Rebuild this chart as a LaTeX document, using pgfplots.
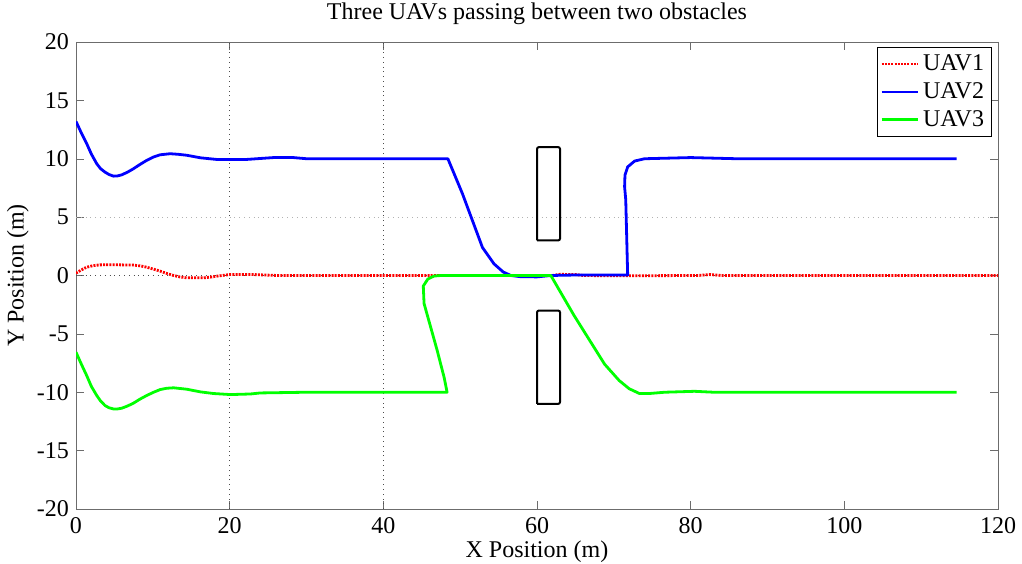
\documentclass[border=0pt]{standalone}
\usepackage{fontspec}
\setmainfont{Liberation Serif}
\usepackage{pgfplots}
\pgfplotsset{compat=1.18}
\begin{document}
\begin{tikzpicture}
\begin{axis}[
    scale only axis,
    width=461pt, height=233.5pt,
    xmin=0, xmax=120, ymin=-20, ymax=20,
    xtick={0,20,...,120},
    ytick={-20,-15,...,20},
    tick align=inside,
    major tick length=4pt,
    axis line style={gray!85!black},
    tick style={gray!85!black},
    /pgf/number format/assume math mode=true,
    every tick label/.append style={font=\fontsize{12}{14}\selectfont},
    xticklabel style={yshift=-0.5pt},
    title={Three UAVs passing between two obstacles},
    title style={font=\fontsize{12}{14}\selectfont, at={(rel axis cs:0.5,1)}, anchor=south, yshift=-1pt},
    xlabel={X Position (m)},
    xlabel style={font=\fontsize{12}{14}\selectfont, at={(rel axis cs:0.5,0)}, anchor=north, yshift=-12.5pt},
    ylabel={Y Position (m)},
    ylabel style={font=\fontsize{12}{14}\selectfont, at={(rel axis cs:-0.063,0.5)}, anchor=center},
    legend style={at={(rel axis cs:0.993,0.989)}, anchor=north east, draw=black, line width=0.5pt,
        font=\fontsize{12}{14}\selectfont, inner sep=1.5pt, row sep=0.5pt, cells={anchor=west}},
    legend image code/.code={\draw[#1] (0pt,0pt) -- (18pt,0pt);},
]
% the few grid lines that show in the original
\draw[black!70, dotted] (axis cs:20,-20) -- (axis cs:20,20);
\draw[black!70, dotted] (axis cs:40,-20) -- (axis cs:40,20);
\draw[black!30, dotted] (axis cs:0,5) -- (axis cs:120,5);
\draw[black!70, dotted] (axis cs:0,0) -- (axis cs:120,0);

\addplot[red, line width=1.4pt, dash pattern=on 1pt off 0.6pt, line join=round] coordinates {
(0,0.2)(0.7,0.48)(1.39,0.71)(2.2,0.84)(3.1,0.91)(5,0.92)(7.47,0.89)(8.4,0.82)
(9.2,0.71)(10.1,0.54)(10.96,0.37)(11.8,0.18)(12.7,0.0)(13.5,-0.12)(14.4,-0.2)
(16.6,-0.2)(17.5,-0.14)(18.3,-0.06)(20.1,0.09)(22.7,0.09)(26.2,0)(62,0)
(63,0.1)(65,0.08)(66,0)(70,-0.03)(81,0)(82.5,0.08)(84,0)(120,0)};
\addlegendentry{UAV1}

\addplot[blue, line width=1.4pt, line join=round] coordinates {
(0,13.2)(0.7,12.2)(1.39,11.3)(2.0,10.4)(2.7,9.57)(3.2,9.15)(3.78,8.85)(4.3,8.65)
(4.87,8.51)(5.4,8.53)(5.95,8.62)(6.7,8.85)(7.47,9.14)(8.3,9.5)(9.2,9.86)
(10.1,10.15)(10.96,10.34)(12.26,10.43)(13.3,10.38)(14.4,10.3)(16.2,10.08)
(18.3,9.94)(22.2,9.94)(25.7,10.1)(28.3,10.1)(30,10.0)(35,10.0)
(48.4,10.0)(50.3,7.0)(52.9,2.4)(54.4,1.0)(55.6,0.3)(56.6,0.0)
(57.8,-0.1)(60,-0.12)(61.8,0)(65.7,0.05)(71.8,0.05)(71.55,6.5)(71.4,7.6)
(71.45,8.6)(71.8,9.3)(72.7,9.8)(74,10.0)(77,10.05)(80,10.1)(83,10.05)
(86,10.0)(114.6,10.0)};
\addlegendentry{UAV2}

\addplot[green, line width=1.4pt, line join=round] coordinates {
(0,-6.57)(0.7,-7.6)(1.39,-8.57)(2.0,-9.5)(2.7,-10.28)(3.2,-10.75)(3.78,-11.14)
(4.3,-11.33)(4.87,-11.43)(5.4,-11.43)(5.95,-11.37)(6.7,-11.18)(7.47,-10.94)
(8.3,-10.6)(9.2,-10.28)(10.1,-10.0)(10.96,-9.77)(11.8,-9.66)(12.7,-9.62)
(14.4,-9.74)(16.2,-9.97)(17.9,-10.11)(20.1,-10.2)(22.7,-10.15)(24,-10.06)
(30,-10.0)(48.3,-10.0)(47.9,-8.7)(47,-6.4)(45.3,-2.4)
(45.2,-0.9)(45.8,-0.3)(46.6,-0.05)(47.5,0)(61.8,0)(64.8,-3.4)(68.8,-7.6)
(70.7,-9.0)(72,-9.7)(73.3,-10.1)(74.8,-10.1)(76.6,-10.0)(80.5,-9.92)
(83,-10.0)(114.6,-10.0)};
\addlegendentry{UAV3}

% obstacles
\addplot[black, line width=1pt, rounded corners=1pt, forget plot] coordinates {
(60,3)(63,3)(63,11)(60,11)(60,3)};
\addplot[black, line width=1pt, rounded corners=1pt, forget plot] coordinates {
(60,-11)(63,-11)(63,-3)(60,-3)(60,-11)};

\coordinate (sw) at (rel axis cs:0,0);
\coordinate (ne) at (rel axis cs:1,1);
\end{axis}
\pgfresetboundingbox
\path ([shift={(-38pt,-27.5pt)}]sw) rectangle ([shift={(12pt,21pt)}]ne);
\end{tikzpicture}
\end{document}
